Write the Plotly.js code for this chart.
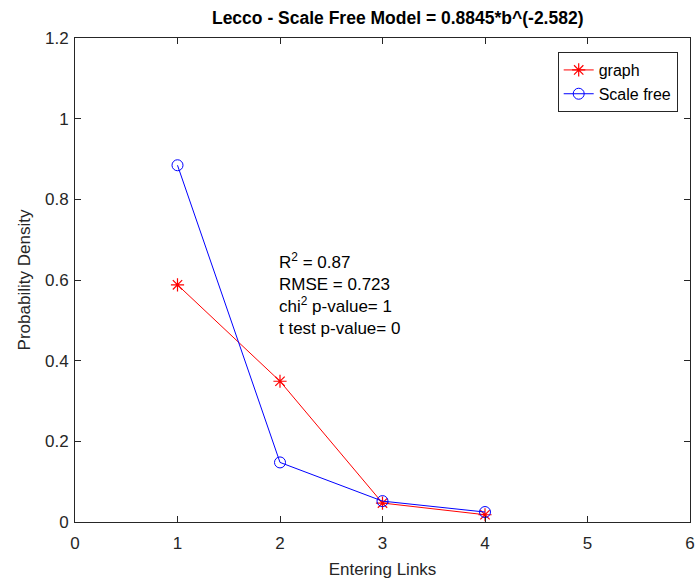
<!DOCTYPE html>
<html><head><meta charset="utf-8">
<script src="https://cdn.plot.ly/plotly-3.0.1.min.js"></script>
<style>body{margin:0;background:#fff}#c{width:699px;height:584px}</style>
</head><body><div id="c"></div>
<script>
const xLinks = [1, 2, 3, 4];
const graphDensity = [0.588, 0.349, 0.047, 0.018];
const scaleFreeDensity = [0.8845, 0.1477, 0.0518, 0.0247];
const xTicks = [0, 1, 2, 3, 4, 5, 6];
const yTicks = [0, 0.2, 0.4, 0.6, 0.8, 1, 1.2];
const yTickText = ['0', '0.2', '0.4', '0.6', '0.8', '1', '1.2'];
const statsText = 'R<sup>2</sup> = 0.87<br>RMSE = 0.723<br>chi<sup>2</sup> p-value= 1<br>t test p-value= 0';

const font = 'Liberation Sans, Arial, sans-serif';
const traces = [
  {x: xLinks, y: graphDensity, name: 'graph', type: 'scatter', mode: 'lines+markers',
   line: {color: '#ff0000', width: 1}, marker: {symbol: 'asterisk-open', size: 11, color: '#ff0000', line: {color: '#ff0000', width: 1.2}}},
  {x: xLinks, y: scaleFreeDensity, name: 'Scale free', type: 'scatter', mode: 'lines+markers',
   line: {color: '#0000ff', width: 1}, marker: {symbol: 'circle-open', size: 11, color: '#0000ff', line: {color: '#0000ff', width: 1}}}
];
const axisCommon = {showgrid: false, zeroline: false, showline: true, mirror: 'ticks', linecolor: '#262626', linewidth: 1,
  ticks: 'inside', ticklen: 6, tickcolor: '#262626', tickfont: {family: font, size: 17, color: '#262626'}};
const layout = {
  width: 699, height: 584,
  margin: {l: 75, r: 9, t: 38, b: 62},
  paper_bgcolor: '#fff', plot_bgcolor: '#fff',
  font: {family: font, color: '#262626'},
  title: {text: '<b>Lecco - Scale Free Model = 0.8845*b^(-2.582)</b>', font: {family: font, size: 17.5, color: '#000'}, x: 0.569, xanchor: 'center', y: 0.969, yanchor: 'middle'},
  xaxis: Object.assign({}, axisCommon, {range: [0, 6], tickvals: xTicks, ticktext: xTicks.map(String), ticklabelstandoff: 6,
    title: {text: 'Entering Links', font: {family: font, size: 17, color: '#262626'}, standoff: 10}}),
  yaxis: Object.assign({}, axisCommon, {range: [0, 1.2], tickvals: yTicks, ticktext: yTickText, ticklabelstandoff: 2,
    title: {text: 'Probability Density', font: {family: font, size: 17, color: '#262626'}, standoff: 10}}),
  showlegend: true,
  legend: {x: 0.98, y: 0.971, xanchor: 'right', yanchor: 'top', bordercolor: '#262626', borderwidth: 1, bgcolor: '#fff',
    font: {family: font, size: 16, color: '#000'}, tracegroupgap: 0, itemwidth: 30},
  annotations: [{xref: 'x', yref: 'y', x: 1.97, y: 0.68, xanchor: 'left', yanchor: 'top', align: 'left', showarrow: false,
    text: statsText, font: {family: font, size: 17, color: '#000'}}]
};
Plotly.newPlot('c', traces, layout, {displayModeBar: false, staticPlot: true});
</script></body></html>
